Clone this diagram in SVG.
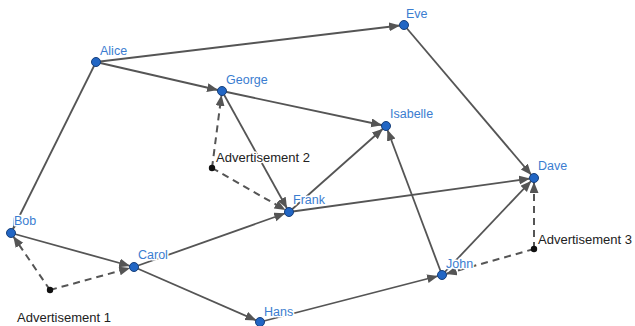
<svg xmlns="http://www.w3.org/2000/svg" width="635" height="326" viewBox="0 0 635 326">
  <defs>
    <marker id="arrow" markerUnits="userSpaceOnUse" markerWidth="16" markerHeight="10" refX="15" refY="4.5" orient="auto">
      <path d="M0,0 L11,4.5 L0,9 z" fill="#555"/>
    </marker>
  </defs>
  <style>
    .edge { stroke: #555; stroke-width: 1.8; fill: none; marker-end: url(#arrow); }
    .ad-edge { stroke: #555; stroke-width: 2; fill: none; stroke-dasharray: 7 5; marker-end: url(#arrow); }
    .node { fill: #2266c4; stroke: #173f7a; stroke-width: 1; }
    .ad { fill: #111; }
    text { font-family: "Liberation Sans", Arial, sans-serif; paint-order: stroke; stroke: #fff; stroke-width: 3; stroke-linejoin: round; }
    .label { fill: #3b7dd0; font-size: 12.5px; }
    .ad-label { fill: #222; font-size: 13px; }
  </style>
  <rect width="635" height="326" fill="#fff"/>

  <g id="connectors">
    <line class="edge" x1="96" y1="62" x2="404" y2="25"/>
    <line class="edge" x1="96" y1="62" x2="222" y2="91"/>
    <line class="edge" x1="96" y1="62" x2="11" y2="233"/>
    <line class="edge" x1="404" y1="25" x2="534" y2="178"/>
    <line class="edge" x1="222" y1="91" x2="386" y2="126"/>
    <line class="edge" x1="222" y1="91" x2="289" y2="212"/>
    <line class="edge" x1="289" y1="212" x2="386" y2="126"/>
    <line class="edge" x1="289" y1="212" x2="534" y2="178"/>
    <line class="edge" x1="11" y1="233" x2="134" y2="267"/>
    <line class="edge" x1="134" y1="267" x2="289" y2="212"/>
    <line class="edge" x1="134" y1="267" x2="260" y2="322"/>
    <line class="edge" x1="260" y1="322" x2="442" y2="275"/>
    <line class="edge" x1="442" y1="275" x2="386" y2="126"/>
    <line class="edge" x1="442" y1="275" x2="534" y2="178"/>
    <line class="ad-edge" x1="50" y1="290" x2="11" y2="233"/>
    <line class="ad-edge" x1="50" y1="290" x2="134" y2="267"/>
    <line class="ad-edge" x1="212" y1="168" x2="222" y2="91"/>
    <line class="ad-edge" x1="212" y1="168" x2="289" y2="212"/>
    <line class="ad-edge" x1="534" y1="249" x2="534" y2="178"/>
    <line class="ad-edge" x1="534" y1="249" x2="442" y2="275"/>
  </g>

  <g id="alice"><circle class="node" cx="96" cy="62" r="4.5"/><text class="label" x="100" y="55">Alice</text></g>
  <g id="eve"><circle class="node" cx="404" cy="25" r="4.5"/><text class="label" x="406" y="18">Eve</text></g>
  <g id="george"><circle class="node" cx="222" cy="91" r="4.5"/><text class="label" x="226" y="84">George</text></g>
  <g id="isabelle"><circle class="node" cx="386" cy="126" r="4.5"/><text class="label" x="390" y="118">Isabelle</text></g>
  <g id="dave"><circle class="node" cx="534" cy="178" r="4.5"/><text class="label" x="538" y="170">Dave</text></g>
  <g id="bob"><circle class="node" cx="11" cy="233" r="4.5"/><text class="label" x="14" y="225">Bob</text></g>
  <g id="carol"><circle class="node" cx="134" cy="267" r="4.5"/><text class="label" x="138" y="259">Carol</text></g>
  <g id="frank"><circle class="node" cx="289" cy="212" r="4.5"/><text class="label" x="293" y="204">Frank</text></g>
  <g id="john"><circle class="node" cx="442" cy="275" r="4.5"/><text class="label" x="446" y="268">John</text></g>
  <g id="hans"><circle class="node" cx="260" cy="322" r="4.5"/><text class="label" x="264" y="316">Hans</text></g>

  <g id="advertisement-1"><circle class="ad" cx="50" cy="290" r="3.2"/><text class="ad-label" x="17" y="322">Advertisement 1</text></g>
  <g id="advertisement-2"><circle class="ad" cx="212" cy="168" r="3.2"/><text class="ad-label" x="216" y="162">Advertisement 2</text></g>
  <g id="advertisement-3"><circle class="ad" cx="534" cy="249" r="3.2"/><text class="ad-label" x="538" y="244">Advertisement 3</text></g>
</svg>
